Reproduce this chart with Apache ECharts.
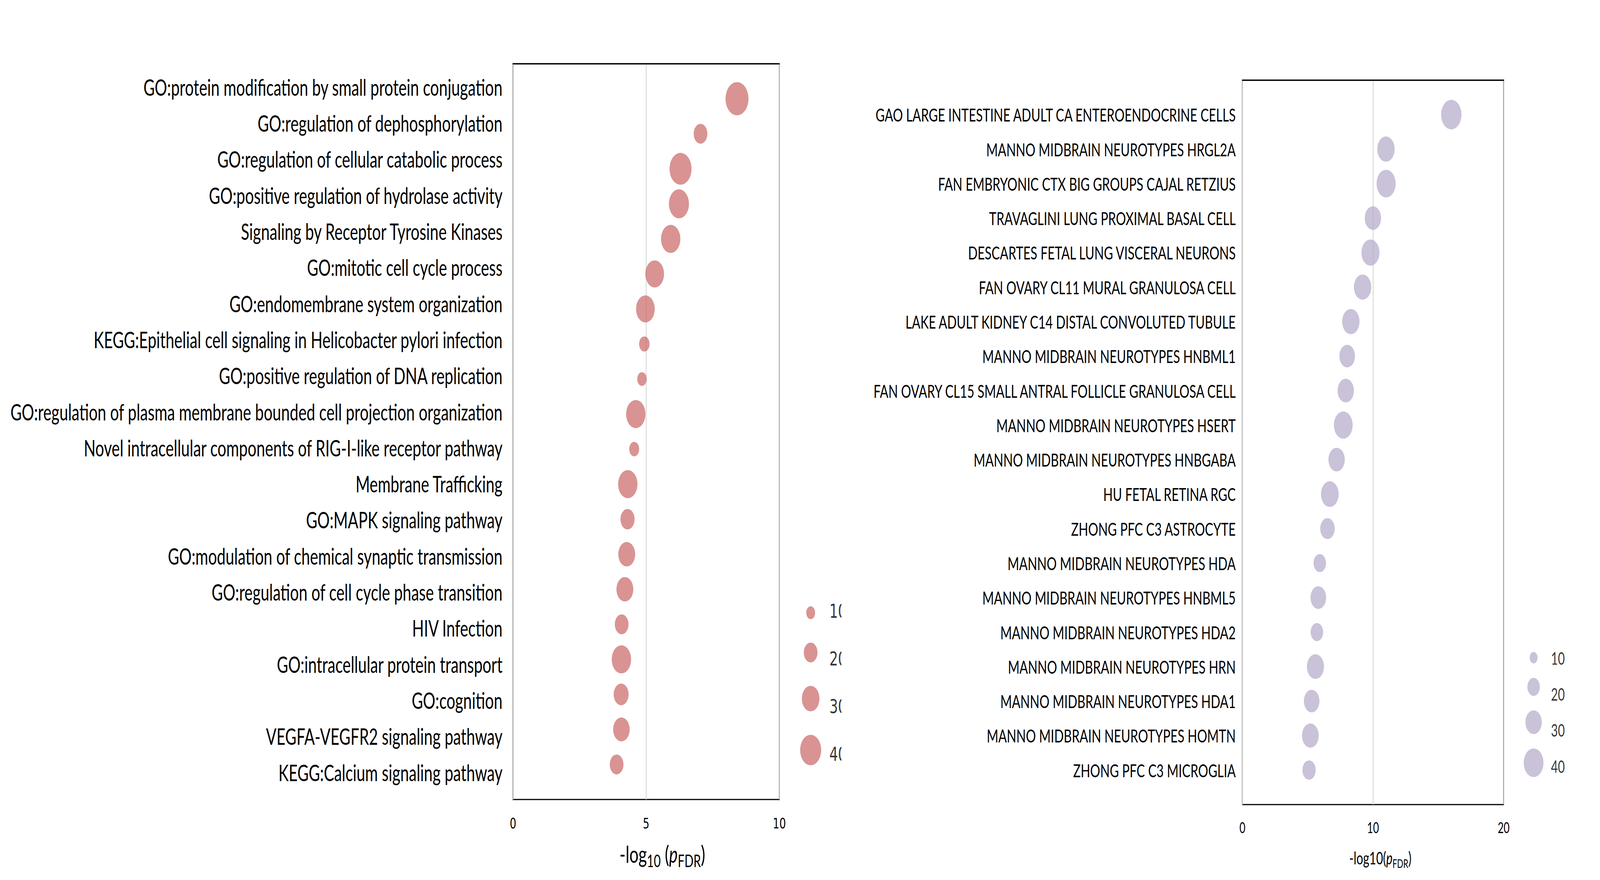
<!DOCTYPE html>
<html>
<head>
<meta charset="utf-8">
<script src="https://cdn.jsdelivr.net/npm/echarts/dist/echarts.min.js"></script>
<style>
html,body{margin:0;padding:0;background:#fff;overflow:hidden;}
#c{width:5929px;height:2252px;transform-origin:0 0;}
</style>
</head>
<body>
<div id="c"></div>
<script>
// ---------------- data ----------------
const leftTerms = [
  "GO:protein modification by small protein conjugation",
  "GO:regulation of dephosphorylation",
  "GO:regulation of cellular catabolic process",
  "GO:positive regulation of hydrolase activity",
  "Signaling by Receptor Tyrosine Kinases",
  "GO:mitotic cell cycle process",
  "GO:endomembrane system organization",
  "KEGG:Epithelial cell signaling in Helicobacter pylori infection",
  "GO:positive regulation of DNA replication",
  "GO:regulation of plasma membrane bounded cell projection organization",
  "Novel intracellular components of RIG-I-like receptor pathway",
  "Membrane Trafficking",
  "GO:MAPK signaling pathway",
  "GO:modulation of chemical synaptic transmission",
  "GO:regulation of cell cycle phase transition",
  "HIV Infection",
  "GO:intracellular protein transport",
  "GO:cognition",
  "VEGFA-VEGFR2 signaling pathway",
  "KEGG:Calcium signaling pathway"
];
const leftLogP  = [8.41, 7.04, 6.29, 6.23, 5.92, 5.32, 4.97, 4.93, 4.84, 4.61, 4.55, 4.31, 4.30, 4.27, 4.20, 4.08, 4.07, 4.06, 4.07, 3.89];
const leftCount = [46, 20, 43, 37, 35, 33, 33, 13, 11, 35, 12, 35, 21, 28, 28, 20, 35, 23, 27, 20];

const rightTerms = [
  "GAO LARGE INTESTINE ADULT CA ENTEROENDOCRINE CELLS",
  "MANNO MIDBRAIN NEUROTYPES HRGL2A",
  "FAN EMBRYONIC CTX BIG GROUPS CAJAL RETZIUS",
  "TRAVAGLINI LUNG PROXIMAL BASAL CELL",
  "DESCARTES FETAL LUNG VISCERAL NEURONS",
  "FAN OVARY CL11 MURAL GRANULOSA CELL",
  "LAKE ADULT KIDNEY C14 DISTAL CONVOLUTED TUBULE",
  "MANNO MIDBRAIN NEUROTYPES HNBML1",
  "FAN OVARY CL15 SMALL ANTRAL FOLLICLE GRANULOSA CELL",
  "MANNO MIDBRAIN NEUROTYPES HSERT",
  "MANNO MIDBRAIN NEUROTYPES HNBGABA",
  "HU FETAL RETINA RGC",
  "ZHONG PFC C3 ASTROCYTE",
  "MANNO MIDBRAIN NEUROTYPES HDA",
  "MANNO MIDBRAIN NEUROTYPES HNBML5",
  "MANNO MIDBRAIN NEUROTYPES HDA2",
  "MANNO MIDBRAIN NEUROTYPES HRN",
  "MANNO MIDBRAIN NEUROTYPES HDA1",
  "MANNO MIDBRAIN NEUROTYPES HOMTN",
  "ZHONG PFC C3 MICROGLIA"
];
const rightLogP  = [15.99, 10.99, 11.0, 9.99, 9.80, 9.20, 8.30, 8.02, 7.91, 7.72, 7.21, 6.69, 6.51, 5.92, 5.81, 5.70, 5.59, 5.30, 5.20, 5.10];
const rightCount = [42, 33, 38, 30, 35, 33, 33, 28, 30, 37, 30, 34, 25, 20, 28, 20, 32, 28, 31, 22];

const legendValues = [10, 20, 30, 40];
const leftXTicks  = {min: 0, max: 10, interval: 5};
const rightXTicks = {min: 0, max: 20, interval: 10};

// ---------------- page fitting (design space is 5929 x 2252) ----------------
const DESIGN_W = 5929, DESIGN_H = 2252;
const el = document.getElementById('c');
const sx = (window.innerWidth || DESIGN_W) / DESIGN_W;
const sy = (window.innerHeight || DESIGN_H) / DESIGN_H;
el.style.transform = 'scale(' + sx + ',' + sy + ')';

// ---------------- helpers ----------------
const leftSize  = v => 33 * Math.pow(v / 10, 0.62);
const rightSize = v => 29.3 * Math.pow(v / 10, 0.66);

const cv = document.createElement('canvas').getContext('2d');
function fitSize(texts, fam, target) {
  cv.font = '100px ' + fam;
  let w = 0;
  texts.forEach(t => { w = Math.max(w, cv.measureText(t).width); });
  return 100 * target / w;
}
const leftLabelSize  = fitSize(leftTerms, 'Lato', 1825);
const rightLabelSize = fitSize(rightTerms, 'Lato', 1350);

// legend layout: bubbles stacked with a fixed gap, labels evenly spaced
function stackY(start, gap, sizeFn) {
  const ys = [];
  let y = start;
  legendValues.forEach((v, i) => {
    if (i > 0) y += sizeFn(legendValues[i - 1]) / 2 + gap + sizeFn(v) / 2;
    ys.push(y);
  });
  return ys;
}
const leftLegBubY  = stackY(68, 60, leftSize);
const rightLegBubY = stackY(83, 37, rightSize);
const leftLegTxtY  = legendValues.map((v, i) => 64 + i * 121.7);
const rightLegTxtY = legendValues.map((v, i) => 84 + i * 92.3);

const leftColor  = 'rgba(199,98,98,0.86)';
const rightColor = 'rgba(176,166,198,0.86)';

function titleRich(main, sub) {
  return {
    n: {fontFamily: 'Lato', fontSize: main, color: '#000', lineHeight: main * 1.3},
    i: {fontFamily: 'Lato', fontSize: main, color: '#000', fontStyle: 'italic', lineHeight: main * 1.3},
    s: {fontFamily: 'Lato', fontSize: sub, color: '#000', lineHeight: sub, verticalAlign: 'bottom'}
  };
}

const chart = echarts.init(el, null, {renderer: 'svg', width: DESIGN_W, height: DESIGN_H});

const option = {
  backgroundColor: '#fff',
  animation: false,
  grid: [
    {left: 1901, top: 163, width: 987, height: 1883, show: true, borderColor: '#000', borderWidth: 3, backgroundColor: 'transparent'},
    {left: 4604, top: 205, width: 968, height: 1854, show: true, borderColor: '#000', borderWidth: 3, backgroundColor: 'transparent'},
    {left: 2904, top: 1500, width: 200, height: 500, show: false},
    {left: 5583, top: 1600, width: 250, height: 450, show: false},
    // category label band of the left panel (its rows are spaced slightly differently from the bubbles)
    {left: 1901, top: 176, width: 987, height: 1846, show: false}
  ],
  xAxis: [
    {
      gridIndex: 0, type: 'value', min: leftXTicks.min, max: leftXTicks.max, interval: leftXTicks.interval,
      axisLine: {show: true, lineStyle: {color: '#000', width: 3}},
      axisTick: {show: false},
      splitLine: {show: true, lineStyle: {color: '#d6d6d6', width: 3}},
      axisLabel: {fontFamily: 'DejaVu Sans', fontSize: 38, color: '#000', margin: 42},
      name: '{n|-log}{s|10}{n| (}{i|p}{s|FDR}{n|)}',
      nameLocation: 'middle', nameGap: 100,
      nameTextStyle: {padding: [0, 0, 0, 120], rich: titleRich(60, 44)}
    },
    {
      gridIndex: 1, type: 'value', min: rightXTicks.min, max: rightXTicks.max, interval: rightXTicks.interval,
      axisLine: {show: true, lineStyle: {color: '#000', width: 3}},
      axisTick: {show: false},
      splitLine: {show: true, lineStyle: {color: '#d6d6d6', width: 3}},
      axisLabel: {fontFamily: 'Lato', fontSize: 38, color: '#000', margin: 39},
      name: '{n|-log10(}{i|p}{s|FDR}{n|)}',
      nameLocation: 'middle', nameGap: 108,
      nameTextStyle: {padding: [0, 0, 0, 54], rich: titleRich(44, 30)}
    },
    {gridIndex: 2, type: 'value', min: 0, max: 200, show: false},
    {gridIndex: 3, type: 'value', min: 0, max: 250, show: false},
    {gridIndex: 4, type: 'value', min: 0, max: 10, show: false}
  ],
  yAxis: [
    {
      gridIndex: 0, type: 'value', min: 0, max: leftTerms.length + 1, interval: 1, inverse: true,
      axisLine: {show: false}, axisTick: {show: false}, splitLine: {show: false}, axisLabel: {show: false}
    },
    {
      gridIndex: 1, type: 'value', min: 0, max: rightTerms.length + 1, interval: 1, inverse: true,
      axisLine: {show: false}, axisTick: {show: false}, splitLine: {show: false},
      axisLabel: {
        fontFamily: 'Lato', fontSize: rightLabelSize, color: '#000', margin: 25,
        formatter: v => rightTerms[v - 1] || ''
      }
    },
    {gridIndex: 2, type: 'value', min: 0, max: 500, inverse: true, show: false},
    {gridIndex: 3, type: 'value', min: 0, max: 450, inverse: true, show: false},
    {
      gridIndex: 4, type: 'category', data: leftTerms, inverse: true,
      axisLine: {show: false}, axisTick: {show: false}, splitLine: {show: false},
      axisLabel: {fontFamily: 'Lato', fontSize: leftLabelSize, color: '#000', margin: 39, interval: 0}
    }
  ],
  series: [
    {
      type: 'scatter', xAxisIndex: 0, yAxisIndex: 0, silent: true,
      data: leftLogP.map((x, i) => [x, i + 1, leftCount[i]]),
      symbolSize: d => leftSize(d[2]),
      itemStyle: {color: leftColor}
    },
    {
      type: 'scatter', xAxisIndex: 1, yAxisIndex: 1, silent: true,
      data: rightLogP.map((x, i) => [x, i + 1, rightCount[i]]),
      symbolSize: d => rightSize(d[2]),
      itemStyle: {color: rightColor}
    },
    // left size legend
    {
      type: 'scatter', xAxisIndex: 2, yAxisIndex: 2, silent: true,
      data: legendValues.map((v, i) => [100, leftLegBubY[i], v]),
      symbolSize: d => leftSize(d[2]),
      itemStyle: {color: leftColor}
    },
    {
      type: 'scatter', xAxisIndex: 2, yAxisIndex: 2, silent: true,
      data: legendValues.map((v, i) => [169, leftLegTxtY[i], v]),
      symbolSize: 1, itemStyle: {color: 'rgba(0,0,0,0)'},
      label: {show: true, position: 'right', distance: 0, formatter: p => String(p.value[2]),
              fontFamily: 'DejaVu Sans', fontSize: 50, color: '#000'}
    },
    // right size legend
    {
      type: 'scatter', xAxisIndex: 3, yAxisIndex: 3, silent: true,
      data: legendValues.map((v, i) => [100, rightLegBubY[i], v]),
      symbolSize: d => rightSize(d[2]),
      itemStyle: {color: rightColor}
    },
    {
      type: 'scatter', xAxisIndex: 3, yAxisIndex: 3, silent: true,
      data: legendValues.map((v, i) => [164, rightLegTxtY[i], v]),
      symbolSize: 1, itemStyle: {color: 'rgba(0,0,0,0)'},
      label: {show: true, position: 'right', distance: 0, formatter: p => String(p.value[2]),
              fontFamily: 'Lato', fontSize: 44, color: '#000'}
    }
  ],
  graphic: [
    // in the reference the left panel is cropped right through its legend labels
    {type: 'rect', z: 100, shape: {x: 3118, y: 1490, width: 90, height: 500}, style: {fill: '#fff'}, silent: true}
  ]
};
chart.setOption(option);
</script>
</body>
</html>
